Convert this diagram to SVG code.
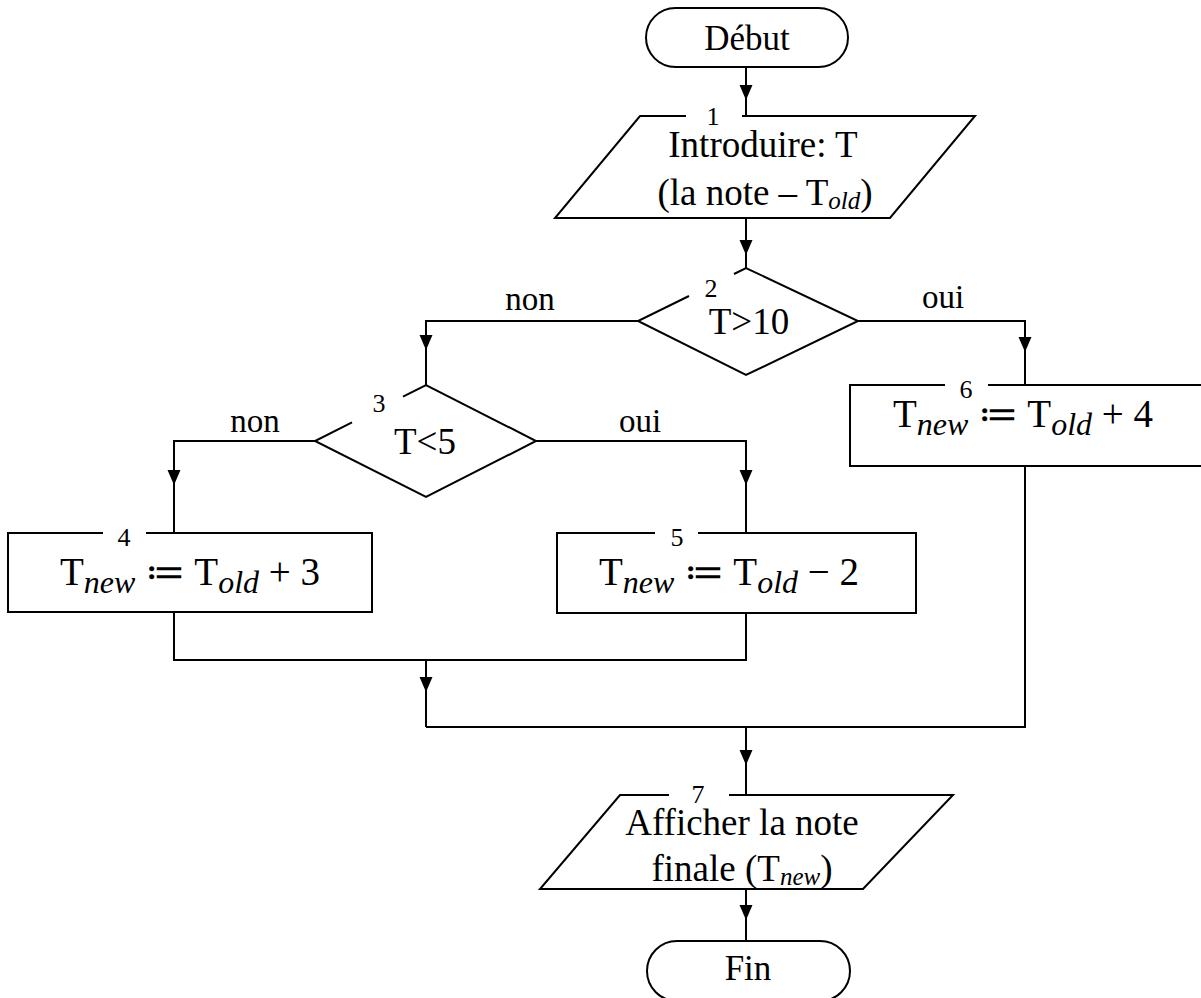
<svg xmlns="http://www.w3.org/2000/svg" width="1201" height="998" viewBox="0 0 1201 998">
<style>
.sh{fill:none;stroke:#000;stroke-width:2;stroke-linejoin:miter}
.ln{fill:none;stroke:#000;stroke-width:2}
.t{font-family:"Liberation Serif","Times New Roman",serif;font-size:37px;fill:#000;text-anchor:middle}
.l{font-family:"Liberation Serif","Times New Roman",serif;font-size:33px;fill:#000;text-anchor:middle}
.e{font-family:"Liberation Serif","Times New Roman",serif;font-size:35px;fill:#000;text-anchor:middle}
.n{font-family:"Liberation Serif","Times New Roman",serif;font-size:26px;fill:#000;text-anchor:middle}
.m{font-family:"Liberation Serif","DejaVu Serif",serif;font-size:39px;fill:#000;text-anchor:middle}
.ms{font-style:italic;font-size:32px}
.sb{font-style:italic;font-size:25px}
</style>
<defs>
<path id="ah" d="M-6.5,-15 L6.5,-15 L0,0 Z" fill="#000"/>
</defs>
<g id="connectors">
<path class="ln" d="M746,67 V116"/>
<use href="#ah" x="746" y="100"/>
<path class="ln" d="M746,218 V268"/>
<use href="#ah" x="746" y="255"/>
<path class="ln" d="M638,321 H426 V385"/>
<use href="#ah" x="426" y="350"/>
<path class="ln" d="M858,321 H1025 V385"/>
<use href="#ah" x="1025" y="352"/>
<path class="ln" d="M315,441 H174 V533"/>
<use href="#ah" x="174" y="485"/>
<path class="ln" d="M536,441 H746 V533"/>
<use href="#ah" x="746" y="485"/>
<path class="ln" d="M174,612 V660 H746 V613"/>
<path class="ln" d="M426,660 V727"/>
<use href="#ah" x="426" y="692"/>
<path class="ln" d="M1025,466 V727 H426"/>
<path class="ln" d="M746,727 V795"/>
<use href="#ah" x="746" y="765"/>
<path class="ln" d="M746,889 V941"/>
<use href="#ah" x="746" y="920"/>
<text class="l" x="530" y="310">non</text>
<text class="l" x="943" y="308">oui</text>
<text class="l" x="255" y="432">non</text>
<text class="l" x="640" y="432">oui</text>
</g>
<g id="debut">
<rect class="sh" x="646" y="8" width="202" height="59" rx="29.5"/>
<text class="e" x="747" y="50">Début</text>
</g>
<g id="n1">
<path class="sh" d="M742,116 L975,116 L890,218 L555,218 L640,116 L686,116"/>
<text class="n" x="713" y="125">1</text>
<text class="t" x="763" y="157">Introduire: T</text>
<text class="t" x="765" y="205">(la note – T<tspan class="sb" dy="4">old</tspan><tspan dy="-4">)</tspan></text>
</g>
<g id="n2">
<path class="sh" d="M734,274 L746,268 L858,321 L746,375 L638,321 L689,296"/>
<text class="n" x="711" y="297">2</text>
<text class="t" x="749" y="334">T&gt;10</text>
</g>
<g id="n3">
<path class="sh" d="M403,396.6 L426,385 L536,441 L426,497 L315,441 L352,422.3"/>
<text class="n" x="379" y="412">3</text>
<text class="t" x="425" y="454">T&lt;5</text>
</g>
<g id="n4">
<path class="sh" d="M146,533 L372,533 L372,612 L8,612 L8,533 L103,533"/>
<text class="n" x="124" y="546">4</text>
<text class="m" x="190" y="585">T<tspan class="ms" dy="8">new</tspan><tspan dy="-8"> ≔ T</tspan><tspan class="ms" dy="8">old</tspan><tspan dy="-8"> + 3</tspan></text>
</g>
<g id="n5">
<path class="sh" d="M698,533 L916,533 L916,613 L557,613 L557,533 L655,533"/>
<text class="n" x="677" y="546">5</text>
<text class="m" x="729" y="585">T<tspan class="ms" dy="8">new</tspan><tspan dy="-8"> ≔ T</tspan><tspan class="ms" dy="8">old</tspan><tspan dy="-8"> − 2</tspan></text>
</g>
<g id="n6">
<path class="sh" d="M988,385 L1204,385 L1204,466 L850,466 L850,385 L945,385"/>
<text class="n" x="966" y="398">6</text>
<text class="m" x="1023" y="427">T<tspan class="ms" dy="8">new</tspan><tspan dy="-8"> ≔ T</tspan><tspan class="ms" dy="8">old</tspan><tspan dy="-8"> + 4</tspan></text>
</g>
<g id="n7">
<path class="sh" d="M729,795 L953,795 L863,889 L540,889 L620,795 L669,795"/>
<text class="n" x="698" y="803">7</text>
<text class="t" x="742" y="835">Afficher la note</text>
<text class="t" x="742" y="881">finale (T<tspan class="sb" dy="4">new</tspan><tspan dy="-4">)</tspan></text>
</g>
<g id="fin">
<rect class="sh" x="647" y="941" width="203" height="60" rx="30"/>
<text class="e" x="748" y="980">Fin</text>
</g>
</svg>
